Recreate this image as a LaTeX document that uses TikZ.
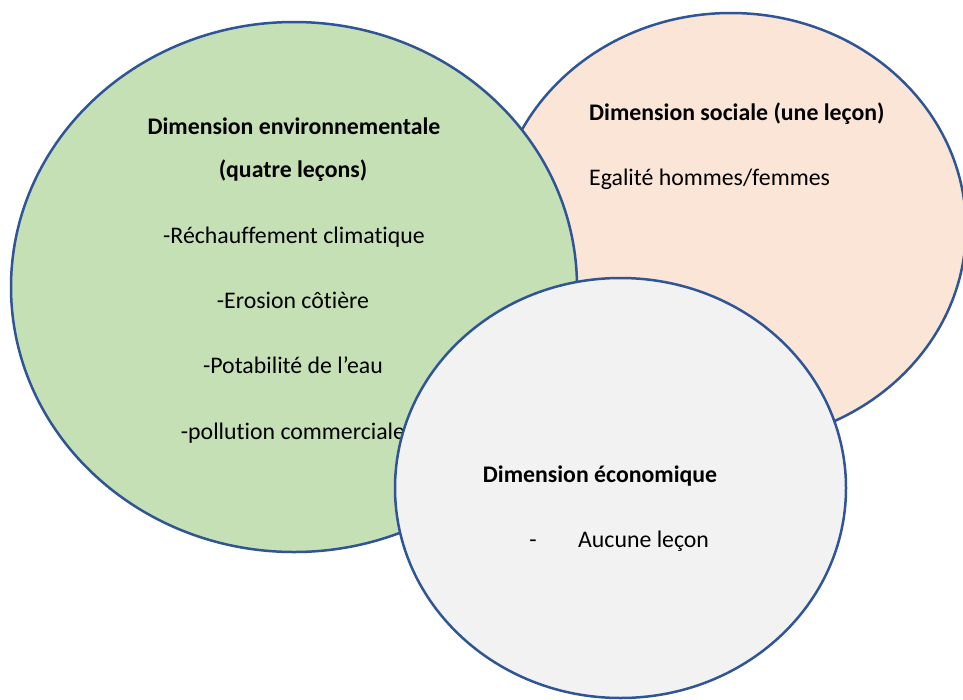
\documentclass[tikz,border=0pt]{standalone}
\usepackage{fontspec}
\setmainfont[Ligatures={NoCommon}]{Carlito}
\definecolor{edgeblue}{HTML}{2F5597}
\definecolor{envgreen}{HTML}{C5E0B4}
\definecolor{socpeach}{HTML}{FBE5D6}
\definecolor{ecogrey}{HTML}{F2F2F2}
\begin{document}
\begin{tikzpicture}[x=1pt,y=-1pt,
  blob/.style={draw=edgeblue, line width=2.5pt},
  txt/.style={font=\fontsize{23.8}{28}\selectfont, inner sep=0pt, anchor=base, text=black},
  txtl/.style={txt, anchor=base west},
  bold/.style={font=\fontsize{23.8}{28}\selectfont\bfseries}]
\useasboundingbox (0,0) rectangle (963,699);
\fill[white] (0,0) rectangle (963,699);
% social (peach)
\draw[blob, fill=socpeach] (731,228) ellipse [x radius=235pt, y radius=215pt];
% environment (green)
\draw[blob, fill=envgreen] (294,287) ellipse [x radius=283pt, y radius=265pt];
\node[txt, bold] (envtitle) at (294,134) {Dimension environnementale};
\node[txt, bold] (envsub) at (293,177) {(quatre leçons)};
\node[txt] (env1) at (294,243) {-Réchauffement climatique};
\node[txt] (env2) at (293,308) {-Erosion côtière};
\node[txt] (env3) at (293,373) {-Potabilité de l’eau};
\node[txt] (env4) at (293,439) {-pollution commerciale};
\node[txtl, bold] (soctitle) at (589,120) {Dimension sociale (une leçon)};
\node[txtl] (soc1) at (589,185) {Egalité hommes/femmes};
% economy (grey)
\draw[blob, fill=ecogrey] (620.5,488) ellipse [x radius=225.5pt, y radius=210pt];
\node[txt, bold] (ecotitle) at (600,482) {Dimension économique};
\node[txt] (ecodash) at (533,547) {-};
\node[txtl] (eco1) at (578,547) {Aucune leçon};
\end{tikzpicture}
\end{document}
